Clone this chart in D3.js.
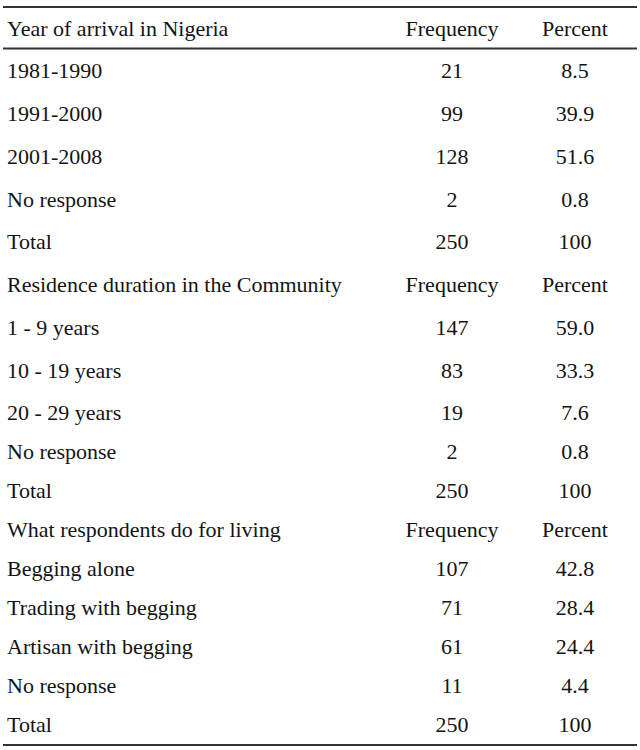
<!DOCTYPE html>
<html lang="en">
<head>
<meta charset="utf-8">
<title>Table</title>
<script src="https://d3js.org/d3.v7.min.js"></script>
<style>
  body { margin: 0; background: #fff; }
</style>
</head>
<body>
<svg id="chart" width="640" height="750"></svg>
<script>
// Table data
const headers = ["Year of arrival in Nigeria", "Residence duration in the Community", "What respondents do for living"];
const colLabels = ["Frequency", "Percent"];

const arrivalCats = ["1981-1990", "1991-2000", "2001-2008", "No response", "Total"];
const arrivalFreq = ["21", "99", "128", "2", "250"];
const arrivalPct = ["8.5", "39.9", "51.6", "0.8", "100"];

const residenceCats = ["1 - 9 years", "10 - 19 years", "20 - 29 years", "No response", "Total"];
const residenceFreq = ["147", "83", "19", "2", "250"];
const residencePct = ["59.0", "33.3", "7.6", "0.8", "100"];

const livingCats = ["Begging alone", "Trading with begging", "Artisan with begging", "No response", "Total"];
const livingFreq = ["107", "71", "61", "11", "250"];
const livingPct = ["42.8", "28.4", "24.4", "4.4", "100"];

const sections = [
  { title: headers[0], cats: arrivalCats, freq: arrivalFreq, pct: arrivalPct },
  { title: headers[1], cats: residenceCats, freq: residenceFreq, pct: residencePct },
  { title: headers[2], cats: livingCats, freq: livingFreq, pct: livingPct }
];

// Flatten into rows
const rows = [];
sections.forEach(s => {
  rows.push([s.title, colLabels[0], colLabels[1]]);
  s.cats.forEach((c, i) => rows.push([c, s.freq[i], s.pct[i]]));
});

const svg = d3.select("#chart");

// row spacing in the scan is a bit looser in the upper part
const y = d3.scaleLinear().domain([0, 9, rows.length - 1]).range([28.5, 413, 725]);
const colX = d3.scaleOrdinal().domain([0, 1, 2]).range([7, 452, 575]);
const colAnchor = d3.scaleOrdinal().domain([0, 1, 2]).range(["start", "middle", "middle"]);

const rowG = svg.selectAll("g.row")
  .data(rows)
  .join("g")
  .attr("class", "row")
  .attr("transform", (d, i) => `translate(0,${y(i)})`);

rowG.selectAll("text")
  .data(d => d)
  .join("text")
  .attr("x", (d, i) => colX(i))
  .attr("dy", "0.33em")
  .attr("text-anchor", (d, i) => colAnchor(i))
  .attr("font-family", "'Liberation Serif', 'Times New Roman', Times, serif")
  .attr("font-size", 22)
  .attr("fill", "#141414")
  .text(d => d);

// Rules: top, under first header, bottom
const rules = [7, 48.5, 745];
svg.selectAll("line.rule")
  .data(rules)
  .join("line")
  .attr("class", "rule")
  .attr("x1", 3)
  .attr("x2", 637)
  .attr("y1", d => d)
  .attr("y2", d => d)
  .attr("stroke", "#333")
  .attr("stroke-width", 2.2);
</script>
</body>
</html>
